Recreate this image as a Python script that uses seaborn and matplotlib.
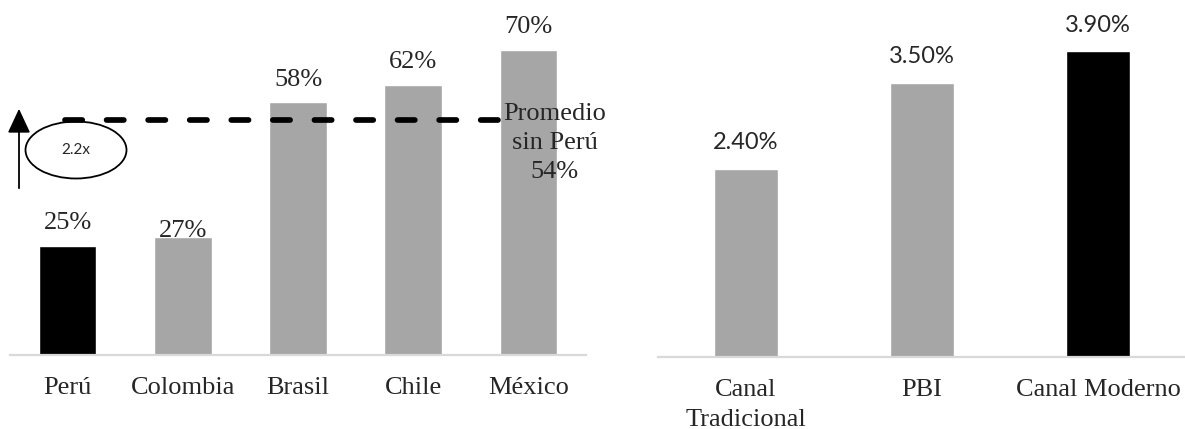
import matplotlib
matplotlib.use("Agg")
import matplotlib.pyplot as plt
from matplotlib.patches import Ellipse, FancyArrowPatch
import seaborn as sns
import pandas as pd

# Penetración del canal moderno por país
paises = ["Perú", "Colombia", "Brasil", "Chile", "México"]
penetracion = [25, 27, 58, 62, 70]
promedio_sin_peru = 54
multiplo = "2.2x"

# Crecimiento anual
rubros = ["Canal\nTradicional", "PBI", "Canal Moderno"]
crecimiento = [2.40, 3.50, 3.90]

GRIS = "#a6a6a6"
NEGRO = "#000000"
EJE = "#d9d9d9"
SERIF = "Liberation Serif"
SANS = "Lato"

sns.set_theme(style="white")
plt.rcParams["font.family"] = [SERIF, "DejaVu Sans"]

W, H = 1185, 429
fig = plt.figure(figsize=(W / 100, H / 100), dpi=100)
PT = 72 / 100  # points per pixel


def px_axes(left, bottom_y, width, height):
    return fig.add_axes([left / W, (H - bottom_y) / H, width / W, height / H])


def estilo(ax):
    for s in ("top", "right", "left"):
        ax.spines[s].set_visible(False)
    ax.spines["bottom"].set_color(EJE)
    ax.spines["bottom"].set_linewidth(1.6)
    ax.set_yticks([])
    ax.set_xlabel("")
    ax.set_ylabel("")
    ax.tick_params(axis="x", length=0, pad=16, labelsize=19)
    for lbl in ax.get_xticklabels():
        lbl.set_fontfamily(SERIF)


# ---- Panel izquierdo ----
ax1 = px_axes(10, 355, 576, 80 * 4.36)
df1 = pd.DataFrame({"pais": paises, "valor": penetracion})
colores1 = [NEGRO] + [GRIS] * (len(paises) - 1)
sns.barplot(data=df1, x="pais", y="valor", hue="pais", palette=colores1,
            legend=False, width=0.5, saturation=1, ax=ax1)
ax1.set_xlim(-0.5, len(paises) - 0.5)
ax1.set_ylim(0, 80)
estilo(ax1)

desfase1 = [16.5, 0.5, 16.5, 16.5, 16.5]  # px entre la barra y la línea base del texto
for i, (v, d) in enumerate(zip(penetracion, desfase1)):
    ax1.annotate(f"{v}%", (i, v), xytext=(0, d * PT), textcoords="offset points",
                 ha="center", va="baseline", fontsize=19, family=SERIF)

linea = ax1.hlines(promedio_sin_peru, -0.02, 3.83, colors="black", linewidth=4.1,
                   linestyles=(0, (3.03, 4.27)))
linea.set_capstyle("round")
ax1.text(4.23, 48.6, f"Promedio\nsin Perú\n{promedio_sin_peru}%",
         ha="center", va="center", fontsize=19, family=SERIF,
         linespacing=1.42, clip_on=False)

# Flecha y elipse del múltiplo
fig.patches.append(FancyArrowPatch((19 / W, 1 - 191 / H), (19 / W, 1 - 106 / H),
                                   transform=fig.transFigure,
                                   arrowstyle="-|>,head_width=0.35,head_length=0.75",
                                   mutation_scale=20, linewidth=1.3, color="black"))
fig.patches.append(Ellipse((76 / W, 1 - 150 / H), 101 / W, 57 / H,
                           transform=fig.transFigure, fill=False,
                           edgecolor="black", linewidth=1.3))
fig.text(76 / W, 1 - 150 / H, multiplo, ha="center", va="center",
         fontsize=11, family=SANS)

# ---- Panel derecho ----
ax2 = px_axes(658, 357, 528, 4.5 * 78.4)
df2 = pd.DataFrame({"rubro": rubros, "valor": crecimiento})
colores2 = [GRIS, GRIS, NEGRO]
sns.barplot(data=df2, x="rubro", y="valor", hue="rubro", palette=colores2,
            legend=False, width=0.36, saturation=1, ax=ax2)
ax2.set_xlim(-0.5, 2.5)
ax2.set_ylim(0, 4.5)
estilo(ax2)
for lbl in ax2.get_xticklabels():
    lbl.set_linespacing(1.45)

for i, v in enumerate(crecimiento):
    ax2.annotate(f"{v:.2f}%", (i, v), xytext=(0, 19.5 * PT), textcoords="offset points",
                 ha="center", va="baseline", fontsize=17, family=SANS)

fig.savefig("out.png", dpi=100)
